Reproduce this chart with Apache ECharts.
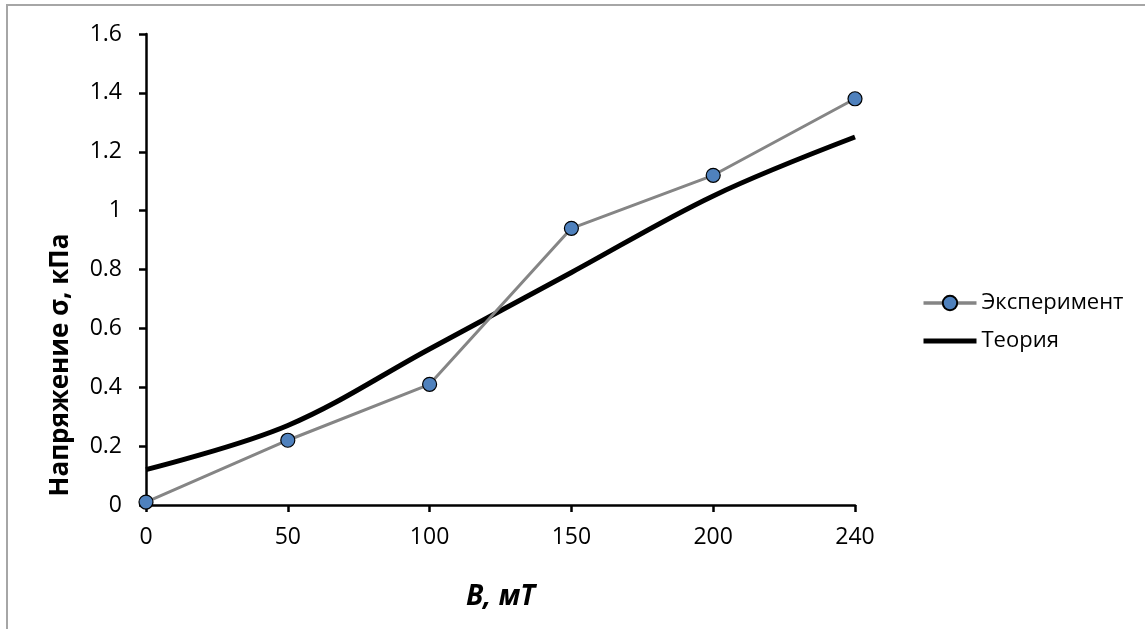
<!DOCTYPE html>
<html>
<head>
<meta charset="utf-8">
<title>Напряжение σ от B</title>
<script src="https://cdn.jsdelivr.net/npm/echarts@6/dist/echarts.min.js"></script>
<style>
  html, body { margin: 0; padding: 0; background: #fff; }
  #chart { width: 1145px; height: 629px; }
</style>
</head>
<body>
<div id="chart"></div>
<script>
// Magnetic induction B, mT (category positions)
const fieldB = ['0', '50', '100', '150', '200', '240'];
// Measured stress, kPa
const experiment = [0.01, 0.22, 0.41, 0.94, 1.12, 1.38];
// Theoretical stress, kPa
const theory = [0.12, 0.27, 0.53, 0.79, 1.05, 1.25];
// Stress axis ticks
const yMin = 0, yMax = 1.6, yStep = 0.2;

const FONT = '"Open Sans", "Noto Sans", sans-serif';
const EXP_LINE = '#858585';

const chart = echarts.init(document.getElementById('chart'), null, { renderer: 'canvas' });

chart.setOption({
  animation: false,
  backgroundColor: '#ffffff',
  textStyle: { fontFamily: FONT },
  grid: { left: 146, right: 290, top: 34, bottom: 124, containLabel: false },
  graphic: [
    {
      type: 'rect',
      shape: { x: 7, y: 5, width: 1400, height: 900 },
      style: { fill: 'none', stroke: '#a6a6a6', lineWidth: 2 },
      silent: true
    },
    {
      type: 'text',
      x: 61,
      y: 365,
      rotation: Math.PI / 2,
      style: {
        text: 'Напряжение σ, кПа',
        font: 'bold 26px ' + FONT,
        fill: '#000',
        align: 'center',
        verticalAlign: 'middle'
      }
    }
  ],
  legend: {
    orient: 'vertical',
    left: 916,
    top: 287,
    itemWidth: 53,
    itemHeight: 18,
    itemGap: 16,
    textStyle: { fontSize: 22, color: '#000', fontFamily: FONT },
    data: [
      { name: 'Эксперимент', lineStyle: { color: EXP_LINE, width: 3.5 } },
      { name: 'Теория', itemStyle: { opacity: 0 }, lineStyle: { color: '#000', width: 5 } }
    ]
  },
  xAxis: {
    type: 'category',
    data: fieldB,
    boundaryGap: false,
    name: 'B, мТ',
    nameLocation: 'middle',
    nameGap: 78,
    nameTextStyle: { fontSize: 28, fontWeight: 'bold', fontStyle: 'italic', color: '#000', fontFamily: FONT },
    axisLine: { lineStyle: { color: '#000', width: 2.5 } },
    axisTick: { show: true, alignWithLabel: true, length: 7, lineStyle: { color: '#000', width: 2.5 } },
    axisLabel: { color: '#000', fontSize: 23, margin: 21, fontFamily: FONT },
    splitLine: { show: false }
  },
  yAxis: {
    type: 'value',
    min: yMin,
    max: yMax,
    interval: yStep,
    axisLine: { show: true, lineStyle: { color: '#000', width: 2.5 } },
    axisTick: { show: true, length: 7, lineStyle: { color: '#000', width: 2.5 } },
    axisLabel: { color: '#000', fontSize: 23, margin: 24, fontFamily: FONT },
    splitLine: { show: false }
  },
  series: [
    {
      name: 'Теория',
      type: 'line',
      data: theory,
      smooth: 0.35,
      symbol: 'none',
      lineStyle: { color: '#000', width: 5 },
      itemStyle: { color: '#000' },
      z: 2
    },
    {
      name: 'Эксперимент',
      type: 'line',
      data: experiment,
      symbol: 'circle',
      symbolSize: 14,
      lineStyle: { color: EXP_LINE, width: 3 },
      itemStyle: { color: '#4f81bd', borderColor: '#000', borderWidth: 1.2 },
      z: 3
    }
  ]
});
</script>
</body>
</html>
